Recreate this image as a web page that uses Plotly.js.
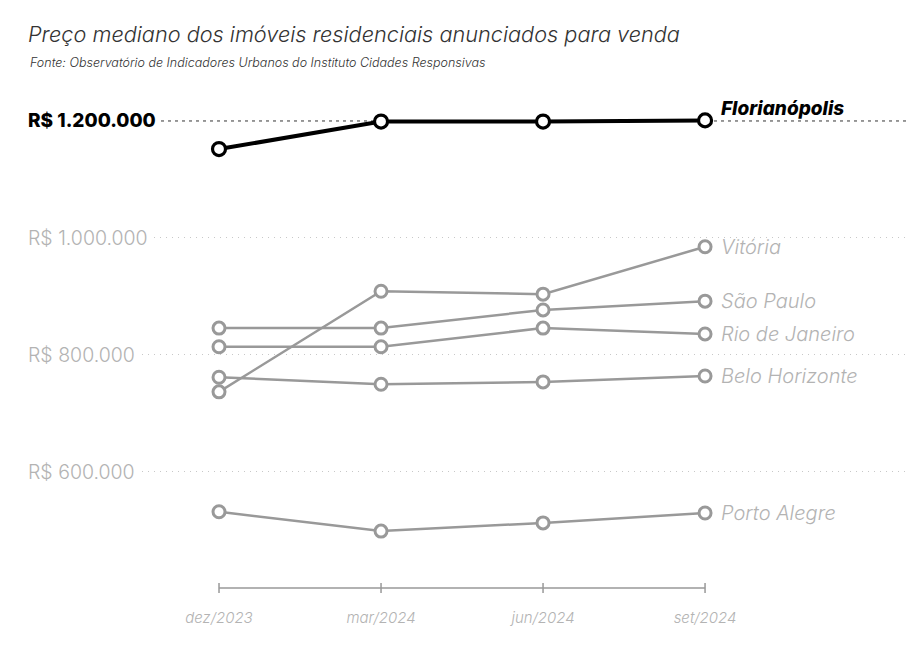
<!DOCTYPE html>
<html>
<head>
<meta charset="utf-8">
<script src="https://cdn.plot.ly/plotly-3.0.1.min.js"></script>
<style>html,body{margin:0;padding:0;background:#fff;}#chart{width:910px;height:654px;}</style>
</head>
<body>
<div id="chart"></div>
<script>
const categories = ['dez/2023', 'mar/2024', 'jun/2024', 'set/2024'];
const cities = ['Porto Alegre', 'Belo Horizonte', 'Rio de Janeiro', 'São Paulo', 'Vitória'];
const porto = [532000, 499000, 513000, 530000];
const belo = [762000, 750000, 754000, 764000];
const rio = [814000, 814000, 846000, 836000];
const saoPaulo = [846000, 846000, 877000, 892000];
const vitoria = [737000, 909000, 904000, 985000];
const grayValues = [porto, belo, rio, saoPaulo, vitoria];
const highlightCity = 'Florianópolis';
const floripa = [1152000, 1199000, 1199000, 1201000];
const yTickVals = [600000, 800000, 1000000];
const yTickText = ['R$ 600.000', 'R$ 800.000', 'R$ 1.000.000'];
const refValue = 1200000;
const refText = 'R$ 1.200.000';
const titleText = 'Preço mediano dos imóveis residenciais anunciados para venda';
const sourceText = 'Fonte: Observatório de Indicadores Urbanos do Instituto Cidades Responsivas';

const FONT = 'Inter, "Open Sans", sans-serif';
const GRAY = '#999999';
const LABELGRAY = '#b3b3b3';

const traces = [];
grayValues.forEach((vals, i) => {
  traces.push({
    x: categories, y: vals, name: cities[i], type: 'scatter', mode: 'lines+markers',
    line: {color: GRAY, width: 2.5},
    marker: {symbol: 'circle', size: 12, color: '#ffffff', line: {color: GRAY, width: 3}},
    cliponaxis: false, hoverinfo: 'skip'
  });
});
traces.push({
  x: categories, y: floripa, name: highlightCity, type: 'scatter', mode: 'lines+markers',
  line: {color: '#000000', width: 4},
  marker: {symbol: 'circle', size: 13, color: '#ffffff', line: {color: '#000000', width: 3.2}},
  cliponaxis: false, hoverinfo: 'skip'
});

const last = categories.length - 1;
const annotations = [];
grayValues.forEach((vals, i) => {
  annotations.push({
    x: last, y: vals[last], xref: 'x', yref: 'y', text: cities[i],
    xanchor: 'left', yanchor: 'middle', xshift: 14, showarrow: false,
    font: {family: FONT, size: 20, color: LABELGRAY, style: 'italic', weight: 300}
  });
});
annotations.push({
  x: last, y: floripa[last], xref: 'x', yref: 'y', text: highlightCity,
  xanchor: 'left', yanchor: 'middle', xshift: 14, yshift: 12, showarrow: false,
  font: {family: FONT, size: 19, color: '#000000', style: 'italic', weight: 800}
});
yTickVals.forEach((v, i) => {
  annotations.push({
    x: 0, y: v, xref: 'paper', yref: 'y', text: yTickText[i],
    xanchor: 'left', yanchor: 'middle', xshift: -5, showarrow: false,
    bgcolor: '#ffffff', borderpad: 4,
    font: {family: FONT, size: 19.5, color: LABELGRAY, weight: 300}
  });
});
annotations.push({
  x: 0, y: refValue, xref: 'paper', yref: 'y', text: refText,
  xanchor: 'left', yanchor: 'middle', xshift: -5, showarrow: false,
  bgcolor: '#ffffff', borderpad: 4,
  font: {family: FONT, size: 19, color: '#000000', weight: 800}
});
annotations.push({
  x: 0, y: 1.0653, xref: 'paper', yref: 'paper', text: sourceText,
  xanchor: 'left', yanchor: 'middle', showarrow: false,
  font: {family: FONT, size: 12.5, color: '#333333', style: 'italic', weight: 300}
});

const axisY = 0.0238;
const tickHalf = 0.0099;
const shapes = [{
  type: 'line', xref: 'paper', yref: 'y', x0: 0, x1: 1, y0: refValue, y1: refValue,
  line: {color: '#333333', width: 1, dash: '3px,4px'}, layer: 'below'
}, {
  type: 'line', xref: 'x', yref: 'paper', x0: 0, x1: last, y0: axisY, y1: axisY,
  line: {color: GRAY, width: 1.5}, layer: 'below'
}];
categories.forEach((c, i) => {
  shapes.push({
    type: 'line', xref: 'x', yref: 'paper', x0: i, x1: i, y0: axisY - tickHalf, y1: axisY + tickHalf,
    line: {color: GRAY, width: 1.5}, layer: 'below'
  });
});

const layout = {
  width: 910, height: 654,
  margin: {l: 28, r: 0, t: 95, b: 54},
  paper_bgcolor: '#ffffff', plot_bgcolor: '#ffffff',
  showlegend: false,
  title: {
    text: titleText, x: 28 / 910, xanchor: 'left', xref: 'container',
    y: 1 - 34 / 654, yanchor: 'middle', yref: 'container',
    font: {family: FONT, size: 21.7, color: '#333333', style: 'italic', weight: 300}
  },
  xaxis: {
    type: 'category', range: [-1.179, 4.265], showgrid: false, zeroline: false,
    showline: false, ticks: 'outside', ticklen: 4, tickcolor: 'rgba(0,0,0,0)',
    tickfont: {family: FONT, size: 15, color: LABELGRAY, style: 'italic', weight: 300},
    fixedrange: true
  },
  yaxis: {
    range: [381200, 1244400], tickvals: yTickVals, showticklabels: false,
    showgrid: true, gridcolor: '#c8c8c8', gridwidth: 1, griddash: '1px,5px',
    zeroline: false, showline: false, fixedrange: true
  },
  annotations: annotations,
  shapes: shapes
};

Plotly.newPlot('chart', traces, layout, {displayModeBar: false, staticPlot: true});
</script>
</body>
</html>
